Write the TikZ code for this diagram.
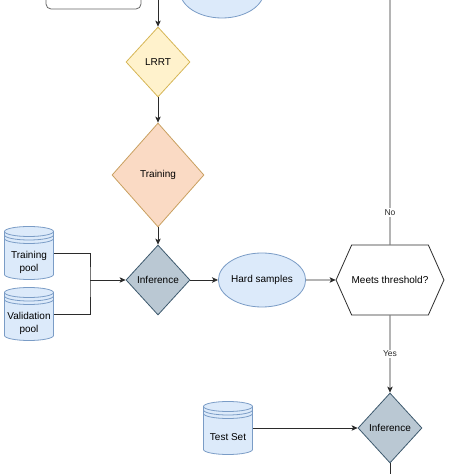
\documentclass[tikz,border=0pt]{standalone}
\usepackage{fontspec}
\setmainfont{Liberation Sans}
\usepackage{xcolor}
\usetikzlibrary{shapes.geometric, shapes.symbols, arrows.meta, positioning}

\definecolor{infFill}{HTML}{BAC8D3}
\definecolor{infLine}{HTML}{3E5A6E}
\definecolor{cylFill}{HTML}{DCEAFA}
\definecolor{cylLine}{HTML}{7A9CC6}
\definecolor{lrrtFill}{HTML}{FFF2CC}
\definecolor{lrrtLine}{HTML}{D6B656}
\definecolor{trainFill}{HTML}{FADAC4}
\definecolor{trainLine}{HTML}{C9A060}
\definecolor{flowLine}{HTML}{2B2B2B}

\begin{document}
\begin{tikzpicture} [x = 1pt, y = 1pt, on grid, font = \fontsize{10}{13}\selectfont,
	decision/.style = {diamond, aspect = 1, inner sep = 0pt, line width = 0.8pt},
	inf cell/.style = {decision, draw = infLine, fill = infFill, minimum width = 64pt, minimum height = 70pt},
	blue cell/.style = {ellipse, draw = cylLine, fill = cylFill, line width = 0.8pt, inner sep = 0pt},
	store/.style = {rectangle, inner sep = 0pt, minimum width = 50pt, minimum height = 54pt,
		path picture = {\begin{scope} [shift = {(path picture bounding box.center)}, cylLine, line width = 0.8pt]
			\filldraw [fill = cylFill] (-24.5, 21.5) -- (-24.5, -21.5)
			arc [start angle = 180, end angle = 360, x radius = 24.5, y radius = 5] -- (24.5, 21.5)
			arc [start angle = 0, end angle = 180, x radius = 24.5, y radius = 5] -- cycle;
			\foreach \d in {21.5, 18, 14.5}
			\draw (-24.5, \d) arc [start angle = 180, end angle = 360, x radius = 24.5, y radius = 5];
			\end{scope}}},
	line/.style = {flowLine, line width = 0.8pt},
	arrow/.style = {line, -{Stealth[length = 6pt, width = 5.5pt, inset = 1.5pt]}},
	tag/.style = {fill = white, inner sep = 1.5pt, font = \fontsize{8.5}{10}\selectfont}]
		% Frame : the flow is cut at the top and the bottom
		\useasboundingbox (0,0) rectangle (474,474);
		\clip (0,0) rectangle (474,474);

		% Cut off boxes at the top
		\node (setup) [draw = gray!80!black, fill = white, rounded corners = 5pt, line width = 0.8pt,
		minimum width = 95pt, minimum height = 40pt] at (93.5, 485) {};
		\node (cloud) [blue cell, minimum width = 84pt, minimum height = 54pt] at (222, 483) {};
		\coordinate (feed) at (158, 474);

		% Main column
		\node (lrrt) [decision, draw = lrrtLine, fill = lrrtFill, minimum width = 64pt, minimum height = 70pt] at (158, 412) {LRRT};

		\node (train) [decision, draw = trainLine, fill = trainFill, minimum width = 92pt, minimum height = 104pt,
		below = 113pt of lrrt] {Training};

		\node (inf1) [inf cell, below = 105pt of train] {Inference};

		% Pools
		\node (tpool) [store, above left = 27pt and 129pt of inf1,
		label = {[yshift = -9pt, align = center]center:Training\\pool}] {};

		\node (vpool) [store, below = 61pt of tpool,
		label = {[yshift = -9pt, align = center]center:Validation\\pool}] {};

		\coordinate [left = 68pt of inf1] (join);

		\node (hard) [blue cell, minimum width = 81pt, minimum height = 54pt, right = 104pt of inf1] {Hard samples};

		\node (meets) [signal, signal to = east and west, signal pointer angle = 132, draw = flowLine, fill = white,
		line width = 0.8pt, inner sep = 0pt, minimum width = 95pt, minimum height = 70pt, right = 128pt of hard] {Meets threshold?};

		\coordinate [above = 300pt of meets] (back);

		\node (inf2) [inf cell, below = 148pt of meets] {Inference};

		\node (test) [store, left = 162pt of inf2, label = {[yshift = -9pt]center:Test Set}] {};

		\coordinate [below = 60pt of inf2] (out);

		% Draw Arrows/Connections
		\path [arrow]
		(feed) edge (lrrt)
		(lrrt) edge (train)
		(train) edge (inf1)
		(join) edge (inf1)
		(inf1) edge (hard)
		(hard) edge (meets)
		(meets) edge node [tag] {Yes} (inf2)
		(test) edge (inf2);

		% pools join, loop back and exit
		\draw [line] (tpool.east) -| (join) |- (vpool.east);
		\draw [line] (meets) -- node [tag, pos = 0.12] {No} (back);
		\draw [line] (inf2) -- (out);
	\end{tikzpicture}
\end{document}
